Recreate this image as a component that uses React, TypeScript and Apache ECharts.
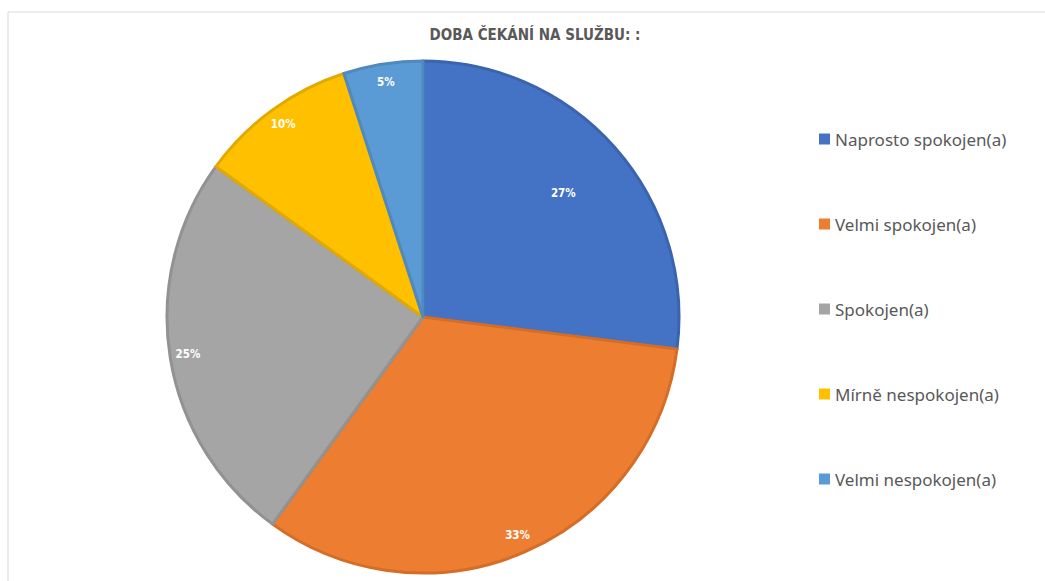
import React, { useEffect, useRef } from "react";
import * as echarts from "echarts";

const title = "DOBA ČEKÁNÍ NA SLUŽBU: :";
const categories = [
  "Naprosto spokojen(a)",
  "Velmi spokojen(a)",
  "Spokojen(a)",
  "Mírně nespokojen(a)",
  "Velmi nespokojen(a)",
];
const values = [27, 33, 25, 10, 5];
const colors = ["#4472C4", "#ED7D31", "#A5A5A5", "#FFC000", "#5B9BD5"];
const borderColors = ["#3B64AE", "#D46D27", "#929292", "#E2AA00", "#4F89BE"];

export default function App() {
  const ref = useRef<HTMLDivElement>(null);
  useEffect(() => {
    if (!ref.current) return;
    const chart = echarts.init(ref.current, null, { renderer: "svg" });
    const center = [423, 317];
    const R = 256;
    const labelStyle = {
      position: "inside",
      formatter: "{d}%",
      color: "#ffffff",
      fontFamily: "DejaVu Sans Condensed",
      fontWeight: "bold",
      fontSize: 11.5,
    };
    const mainData = categories.map((name, i) => ({
      name,
      value: values[i],
      itemStyle: { color: colors[i], borderColor: borderColors[i], borderWidth: 3 },
    }));
    const labelData = (show: (i: number) => boolean) =>
      categories.map((name, i) => ({
        name,
        value: values[i],
        itemStyle: { color: "rgba(0,0,0,0)", borderWidth: 0 },
        label: { show: show(i) },
      }));
    chart.setOption({
      animation: false,
      backgroundColor: "#ffffff",
      title: {
        text: title,
        left: 530,
        textAlign: "center",
        top: 22,
        textStyle: {
          fontFamily: "DejaVu Sans Condensed",
          fontWeight: "bold",
          fontSize: 15,
          color: "#595959",
        },
      },
      graphic: [
        {
          type: "rect",
          shape: { x: 8, y: 12, width: 1200, height: 800 },
          style: { fill: "none", stroke: "#d9d9d9", lineWidth: 1 },
          silent: true,
        },
      ],
      legend: {
        orient: "vertical",
        left: 814,
        top: 124,
        itemWidth: 11,
        itemHeight: 11,
        itemGap: 65,
        icon: "rect",
        itemStyle: { borderWidth: 0 },
        data: categories,
        textStyle: {
          fontFamily: "Noto Sans",
          fontSize: 17,
          lineHeight: 20,
          color: "#595959",
        },
      },
      series: [
        {
          type: "pie",
          center,
          radius: [0, R],
          startAngle: 90,
          clockwise: true,
          label: { show: false },
          labelLine: { show: false },
          data: mainData,
        },
        {
          type: "pie",
          center,
          radius: [214, R],
          startAngle: 90,
          silent: true,
          label: labelStyle,
          labelLine: { show: false },
          data: labelData((i) => i !== 0),
        },
        {
          type: "pie",
          center,
          radius: [112, R],
          startAngle: 90,
          silent: true,
          label: labelStyle,
          labelLine: { show: false },
          data: labelData((i) => i === 0),
        },
      ],
    });
    return () => chart.dispose();
  }, []);
  return (
    <div
      ref={ref}
      style={{ position: "fixed", left: 0, top: 0, width: 1045, height: 581 }}
    />
  );
}
